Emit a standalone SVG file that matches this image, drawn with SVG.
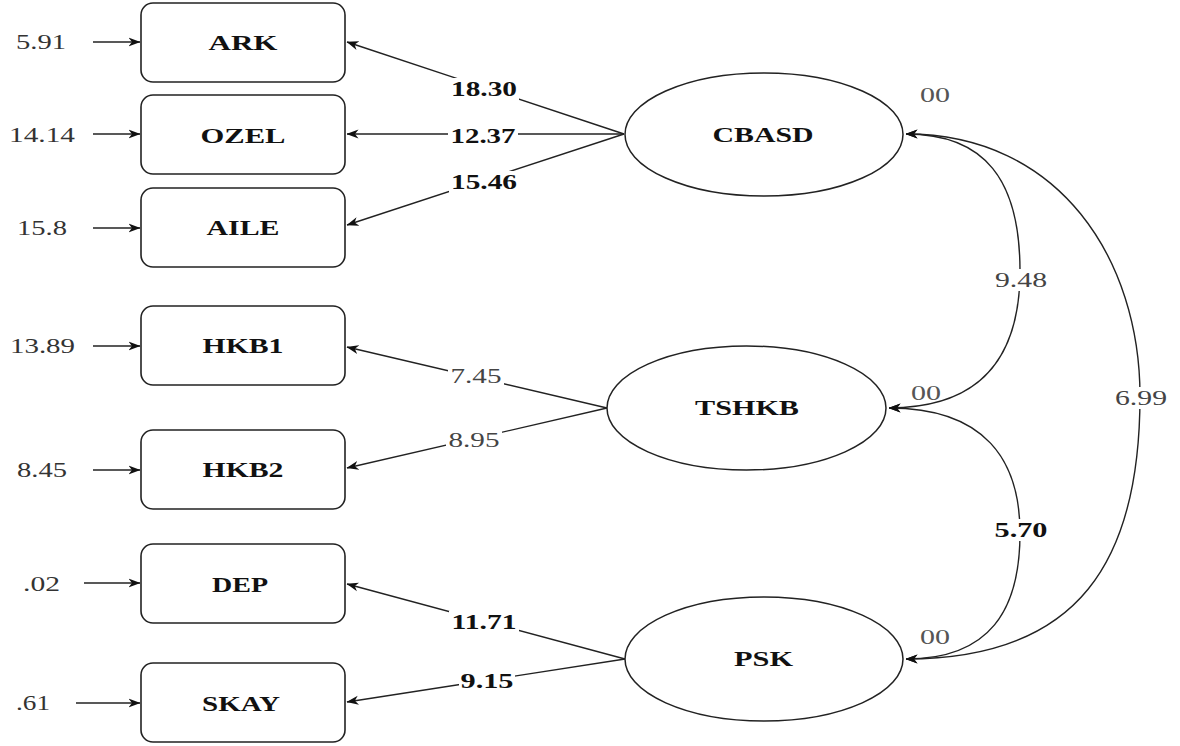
<svg xmlns="http://www.w3.org/2000/svg" width="1180" height="746" viewBox="0 0 1180 746">
<style>
.box{fill:#fff;stroke:#222;stroke-width:1.6}
.ell{fill:#fff;stroke:#222;stroke-width:1.5}
.ln{fill:none;stroke:#222;stroke-width:1.4}
.bg{fill:#fff;stroke:none}
.nl{font-family:"Liberation Serif","Times New Roman",serif;font-weight:bold;font-size:22px;fill:#111;text-anchor:middle}
.vb{font-family:"Liberation Serif","Times New Roman",serif;font-weight:bold;font-size:21px;fill:#111;text-anchor:middle}
.vr{font-family:"Liberation Serif","Times New Roman",serif;font-size:21px;fill:#444;text-anchor:middle}
.el{font-family:"Liberation Serif","Times New Roman",serif;font-size:21px;fill:#333;text-anchor:middle}
.zz{font-family:"Liberation Serif","Times New Roman",serif;font-size:21px;fill:#555;text-anchor:middle}
</style>
<defs>
<marker id="ah" viewBox="0 0 12 10" refX="11.5" refY="5" markerWidth="12" markerHeight="10" orient="auto-start-reverse" markerUnits="userSpaceOnUse">
<path d="M0,0.5 L12,5 L0,9.5 L3.5,5 z" fill="#111"/>
</marker>
</defs>
<rect width="1180" height="746" fill="#fff"/>

<g id="connectors">
<line class="ln" x1="93" y1="42" x2="140" y2="42" marker-end="url(#ah)"/>
<line class="ln" x1="93" y1="134" x2="140" y2="134" marker-end="url(#ah)"/>
<line class="ln" x1="93" y1="228" x2="140" y2="228" marker-end="url(#ah)"/>
<line class="ln" x1="93" y1="346" x2="140" y2="346" marker-end="url(#ah)"/>
<line class="ln" x1="93" y1="470" x2="140" y2="470" marker-end="url(#ah)"/>
<line class="ln" x1="84" y1="583" x2="140" y2="583" marker-end="url(#ah)"/>
<line class="ln" x1="76" y1="703" x2="140" y2="703" marker-end="url(#ah)"/>
<line class="ln" x1="624" y1="134" x2="347" y2="42" marker-end="url(#ah)"/>
<line class="ln" x1="624" y1="134" x2="347" y2="134" marker-end="url(#ah)"/>
<line class="ln" x1="624" y1="134" x2="347" y2="225" marker-end="url(#ah)"/>
<line class="ln" x1="607" y1="408" x2="347" y2="347" marker-end="url(#ah)"/>
<line class="ln" x1="607" y1="408" x2="347" y2="468" marker-end="url(#ah)"/>
<line class="ln" x1="625" y1="659" x2="347" y2="584" marker-end="url(#ah)"/>
<line class="ln" x1="625" y1="659" x2="347" y2="702" marker-end="url(#ah)"/>
<path class="ln" d="M906,134 C985,134 1020,180 1020,271 C1020,352 985,408 889,408" marker-start="url(#ah)" marker-end="url(#ah)"/>
<path class="ln" d="M889,408 C985,408 1020,460 1020,533 C1020,610 990,659 906,659" marker-start="url(#ah)" marker-end="url(#ah)"/>
<path class="ln" d="M906,134 C1060,134 1140,260 1140,396 C1140,560 1080,659 906,659" marker-start="url(#ah)" marker-end="url(#ah)"/>
<rect class="bg" x="449" y="78" width="70" height="22"/>
<rect class="bg" x="448" y="125" width="70" height="22"/>
<rect class="bg" x="449" y="171" width="70" height="22"/>
<rect class="bg" x="448" y="365" width="56" height="22"/>
<rect class="bg" x="446" y="429" width="56" height="22"/>
<rect class="bg" x="449" y="611" width="70" height="22"/>
<rect class="bg" x="459" y="670" width="56" height="22"/>
<rect class="bg" x="993" y="269" width="56" height="22"/>
<rect class="bg" x="1113" y="387" width="56" height="22"/>
<rect class="bg" x="993" y="519" width="56" height="22"/>
<text class="vb" x="484" y="96" textLength="66" lengthAdjust="spacingAndGlyphs">18.30</text>
<text class="vb" x="483" y="143" textLength="65" lengthAdjust="spacingAndGlyphs">12.37</text>
<text class="vb" x="484" y="189" textLength="66" lengthAdjust="spacingAndGlyphs">15.46</text>
<text class="vr" x="476" y="383" textLength="51" lengthAdjust="spacingAndGlyphs">7.45</text>
<text class="vr" x="474" y="447" textLength="51" lengthAdjust="spacingAndGlyphs">8.95</text>
<text class="vb" x="484" y="629" textLength="65" lengthAdjust="spacingAndGlyphs">11.71</text>
<text class="vb" x="487" y="688" textLength="53" lengthAdjust="spacingAndGlyphs">9.15</text>
<text class="vr" x="1021" y="287" textLength="52" lengthAdjust="spacingAndGlyphs">9.48</text>
<text class="vr" x="1141" y="405" textLength="52" lengthAdjust="spacingAndGlyphs">6.99</text>
<text class="vb" x="1021" y="537" textLength="53" lengthAdjust="spacingAndGlyphs">5.70</text>
</g>

<g id="e-ARK"><text class="el" x="41" y="49" textLength="50" lengthAdjust="spacingAndGlyphs">5.91</text></g>
<g id="e-OZEL"><text class="el" x="42" y="142" textLength="66" lengthAdjust="spacingAndGlyphs">14.14</text></g>
<g id="e-AILE"><text class="el" x="42" y="235" textLength="50" lengthAdjust="spacingAndGlyphs">15.8</text></g>
<g id="e-HKB1"><text class="el" x="42.5" y="353" textLength="65" lengthAdjust="spacingAndGlyphs">13.89</text></g>
<g id="e-HKB2"><text class="el" x="42" y="477" textLength="50" lengthAdjust="spacingAndGlyphs">8.45</text></g>
<g id="e-DEP"><text class="el" x="41.5" y="591" textLength="37" lengthAdjust="spacingAndGlyphs">.02</text></g>
<g id="e-SKAY"><text class="el" x="33" y="710" textLength="34" lengthAdjust="spacingAndGlyphs">.61</text></g>

<g id="ARK"><rect class="box" x="141" y="3" width="204" height="79" rx="12"/><text class="nl" x="243" y="50" textLength="69" lengthAdjust="spacingAndGlyphs">ARK</text></g>
<g id="OZEL"><rect class="box" x="141" y="95" width="204" height="79" rx="12"/><text class="nl" x="243" y="143" textLength="85" lengthAdjust="spacingAndGlyphs">OZEL</text></g>
<g id="AILE"><rect class="box" x="141" y="188" width="204" height="79" rx="12"/><text class="nl" x="243" y="235" textLength="73" lengthAdjust="spacingAndGlyphs">AILE</text></g>
<g id="HKB1"><rect class="box" x="141" y="306" width="204" height="79" rx="12"/><text class="nl" x="243" y="353" textLength="81" lengthAdjust="spacingAndGlyphs">HKB1</text></g>
<g id="HKB2"><rect class="box" x="141" y="430" width="204" height="79" rx="12"/><text class="nl" x="243" y="477" textLength="81" lengthAdjust="spacingAndGlyphs">HKB2</text></g>
<g id="DEP"><rect class="box" x="141" y="544" width="204" height="79" rx="12"/><text class="nl" x="240" y="592" textLength="56" lengthAdjust="spacingAndGlyphs">DEP</text></g>
<g id="SKAY"><rect class="box" x="141" y="663" width="204" height="79" rx="12"/><text class="nl" x="241" y="711" textLength="78" lengthAdjust="spacingAndGlyphs">SKAY</text></g>

<g id="CBASD"><ellipse class="ell" cx="764" cy="134.5" rx="139" ry="61.5"/><text class="nl" x="763" y="142" textLength="101" lengthAdjust="spacingAndGlyphs">CBASD</text><text class="zz" x="935" y="102" textLength="30" lengthAdjust="spacingAndGlyphs">00</text></g>
<g id="TSHKB"><ellipse class="ell" cx="746.5" cy="408" rx="139.5" ry="62"/><text class="nl" x="747" y="415" textLength="104" lengthAdjust="spacingAndGlyphs">TSHKB</text><text class="zz" x="926" y="400" textLength="30" lengthAdjust="spacingAndGlyphs">00</text></g>
<g id="PSK"><ellipse class="ell" cx="764" cy="659" rx="139" ry="62"/><text class="nl" x="763.5" y="666" textLength="59" lengthAdjust="spacingAndGlyphs">PSK</text><text class="zz" x="935" y="644" textLength="30" lengthAdjust="spacingAndGlyphs">00</text></g>
</svg>
